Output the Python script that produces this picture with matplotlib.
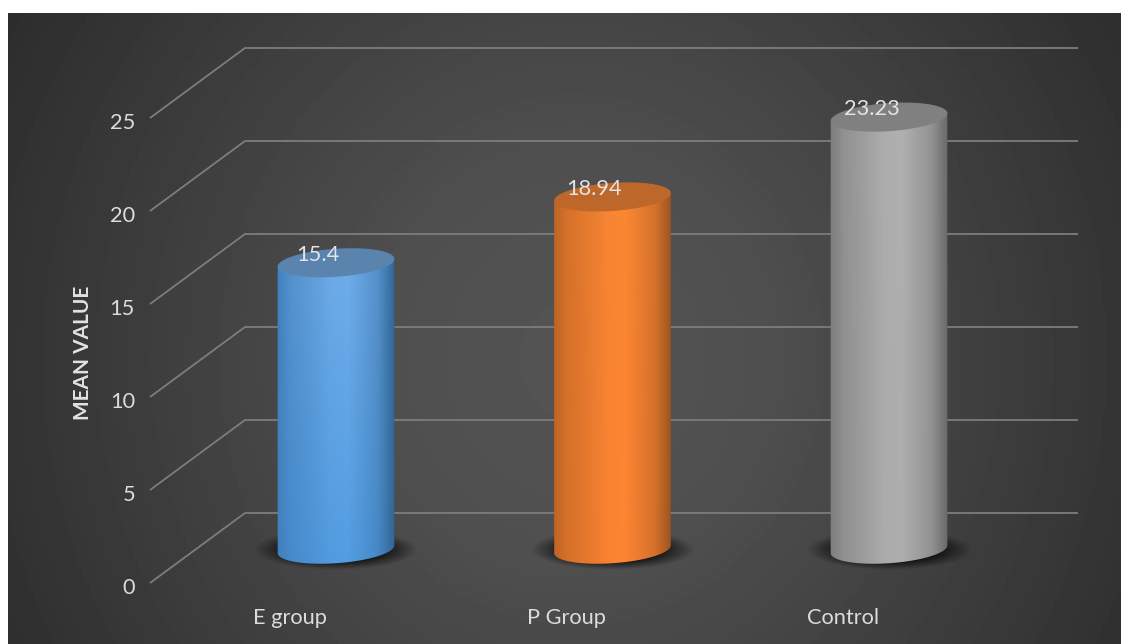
import numpy as np
import matplotlib
matplotlib.use("Agg")
import matplotlib.pyplot as plt
from matplotlib.colors import to_rgb
from matplotlib.patches import Polygon
from matplotlib.transforms import ScaledTranslation

plt.rcParams['font.family'] = ['Lato', 'DejaVu Sans']

# data
groups = ["E group", "P Group", "Control"]
means = [15.4, 18.94, 23.23]
mean_labels = ["15.4", "18.94", "23.23"]
y_ticks = [0, 5, 10, 15, 20, 25]

# look of each cylinder: centre, lower centre, left edge, right edge, top cap
looks = [
    ("#70aeea", "#539de2", "#3f7fbd", "#2f6292", "#5a83ae"),
    ("#fb8733", "#fd8432", "#bd6324", "#94501f", "#bd672b"),
    ("#b0b0b0", "#aeaeae", "#7b7b7b", "#636363", "#808080"),
]
label_shift = [-18, -19, -17]

# pixel scale of the picture
W, H = 1121, 644
left, top = 8, 13
px_x = 276.5   # pixels per category
px_y = 18.6    # pixels per unit of value
x0_px, y0_px = 290, 583

fig = plt.figure(figsize=(W / 100, H / 100), dpi=100, facecolor="white")
ax = fig.add_axes([left / W, 0, (W - left) / W, (H - top) / H])
xlim = ((left - x0_px) / px_x, (W - x0_px) / px_x)
ylim = ((y0_px - H) / px_y, (y0_px - top) / px_y)
ax.set_xlim(xlim)
ax.set_ylim(ylim)
extent = [xlim[0], xlim[1], ylim[0], ylim[1]]

# background
gx, gy = np.meshgrid(np.linspace(left, W, 300), np.linspace(top, H, 180))
r = np.sqrt(((gx - 575) / 640) ** 2 + ((gy - 360) / 680) ** 2)
shade = np.interp(r, [0, 0.3, 1.0, 1.3], [0.33, 0.31, 0.18, 0.15])
ax.imshow(shade, extent=extent, origin="upper", aspect="auto", cmap="gray",
          vmin=0, vmax=1, zorder=0)

# floor and wall lines
depth_x = 95 / px_x
depth_y = 70 / px_y
x_front = (150 - x0_px) / px_x
x_right = (1078 - x0_px) / px_x
for v in y_ticks:
    ax.plot([x_front, x_front + depth_x, x_right],
            [v, v + depth_y, v + depth_y],
            color="#7d7d7d", lw=1.3, zorder=1, solid_capstyle="butt")


def ellipse(cx, cy, a=58.5, b=14, tilt=4.0, n=200):
    # outline of a slightly tilted ellipse, sizes in pixels
    t = np.linspace(0, 2 * np.pi, n)
    c, s = np.cos(np.radians(tilt)), np.sin(np.radians(tilt))
    dx = a * np.cos(t) * c - b * np.sin(t) * s
    dy = a * np.cos(t) * s + b * np.sin(t) * c
    return cx + dx / px_x, cy + dy / px_y


for i, (name, v) in enumerate(zip(groups, means)):
    cx = i + (depth_x - 3 / px_x) / 2
    base = (depth_y - 2.4 / px_y) / 2
    top_y = base + v
    centre, low, edge_l, edge_r, cap = looks[i]

    # soft shadow on the floor
    sx, sy = np.meshgrid(np.linspace(-1, 1, 200), np.linspace(-1, 1, 80))
    d = np.sqrt(sx ** 2 + sy ** 2)
    shadow = np.zeros(d.shape + (4,))
    shadow[..., 3] = np.clip((1 - d) / 0.45, 0, 1) * 0.8
    ax.imshow(shadow, origin="upper", aspect="auto", zorder=2,
              extent=[cx - 82 / px_x, cx + 82 / px_x,
                      base - 21 / px_y, base + 19 / px_y])

    # cylinder side, gradient clipped to its outline
    bx, by = ellipse(cx, base)
    tx, ty = ellipse(cx, top_y)
    lower = np.where((np.arange(200) >= 100))[0]
    low_arc = np.column_stack([bx[lower], by[lower]])
    outline = np.vstack([[tx[100], ty[100]], low_arc, [tx[0], ty[0]]])
    clip = Polygon(outline, closed=True, transform=ax.transData, fc="none", ec="none")
    ax.add_patch(clip)

    u = np.linspace(0, 1, 200)
    w = np.linspace(0, 1, 200)
    weight = np.interp(u, [0, 0.12, 0.45, 0.6, 0.85, 1], [0, 0.45, 0.95, 1, 0.6, 0])
    side_edge = np.interp(u, [0, 1], [0, 1])[None, :, None]
    col_top, col_low = np.array(to_rgb(centre)), np.array(to_rgb(low))
    e_l, e_r = np.array(to_rgb(edge_l)), np.array(to_rgb(edge_r))
    mid = col_top[None, None, :] * (1 - w[:, None, None]) + col_low[None, None, :] * w[:, None, None]
    edge = e_l[None, None, :] * (1 - side_edge) + e_r[None, None, :] * side_edge
    img = edge + (mid - edge) * weight[None, :, None]
    im = ax.imshow(img, origin="upper", aspect="auto", zorder=3,
                   extent=[cx - 60 / px_x, cx + 60 / px_x, base - 20 / px_y, top_y + 20 / px_y])
    im.set_clip_path(clip)

    # top cap
    ax.fill(tx, ty, color=cap, lw=0, zorder=4)

    ax.text(cx + label_shift[i] / px_x, top_y + 8 / px_y, mean_labels[i],
            ha="center", va="center", fontsize=15.7, color="#e4e4e4", zorder=5)

# keep the limits after the images
ax.set_xlim(xlim)
ax.set_ylim(ylim)

ax.set_xticks(range(len(groups)))
ax.set_xticklabels(groups)
ax.set_yticks(y_ticks)
ax.tick_params(axis="x", length=0, pad=-(H - 608) * 0.72, labelsize=15.7, labelcolor="#dcdcdc")
ax.tick_params(axis="y", length=0, pad=-(135 - left) * 0.72, labelsize=15.7, labelcolor="#dcdcdc")
down = ScaledTranslation(0, -3 / 100, fig.dpi_scale_trans)
for lab in ax.get_yticklabels():
    lab.set_transform(lab.get_transform() + down)
ax.set_ylabel("MEAN VALUE", fontsize=15, fontweight="bold", color="#e2e2e2")
ax.yaxis.set_label_coords((93 - left) / (W - left), (H - 353) / (H - top))
for s in ax.spines.values():
    s.set_visible(False)

fig.savefig("out.png", dpi=100, facecolor="white")
